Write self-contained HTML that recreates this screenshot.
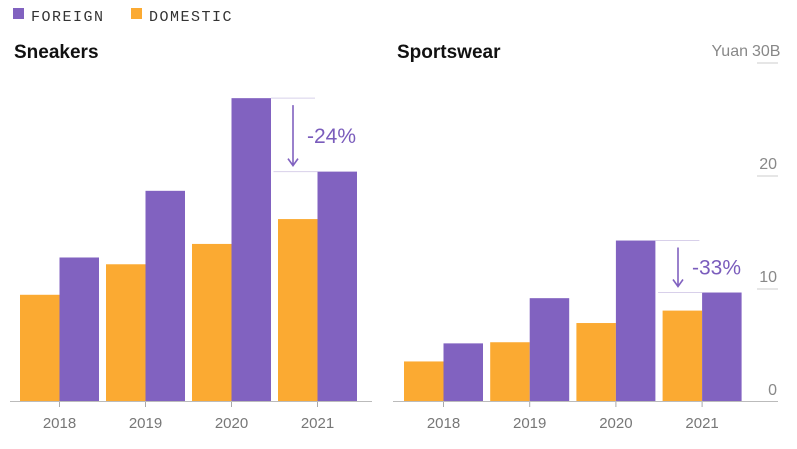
<!DOCTYPE html>
<html><head><meta charset="utf-8"><style>
body{margin:0;background:#fff;width:797px;height:444px;overflow:hidden;font-family:"Liberation Sans",sans-serif}
</style></head><body>
<svg id="c" width="797" height="444" xmlns="http://www.w3.org/2000/svg">
<g>
<rect x="13" y="8" width="11" height="11" fill="#8162c0"/>
<text x="31" y="21" font-family="Liberation Mono,monospace" font-size="15" fill="#333" letter-spacing="1.5">FOREIGN</text>
<rect x="131" y="8" width="11" height="11" fill="#fbaa32"/>
<text x="149" y="21" font-family="Liberation Mono,monospace" font-size="15" fill="#333" letter-spacing="1.5">DOMESTIC</text>
</g>
<text x="14" y="58" font-size="19" font-weight="bold" fill="#111">Sneakers</text>
<text x="397" y="58" font-size="19" font-weight="bold" fill="#111">Sportswear</text>
<text x="748" y="56" font-size="16" fill="#888" text-anchor="end">Yuan</text>
</svg>
<script>
const years=["2018","2019","2020","2021"];
const sneakersForeign=[12.7,18.6,26.8,20.3];
const sneakersDomestic=[9.4,12.1,13.9,16.1];
const sportsForeign=[5.1,9.1,14.2,9.6];
const sportsDomestic=[3.5,5.2,6.9,8.0];
const ticks=[0,10,20,30];
const tickLabels=["0","10","20","30B"];
const svg=document.getElementById('c');
const NS="http://www.w3.org/2000/svg";
function y(v){return 401-11.3*v;}
function mk(t,a,p){const e=document.createElementNS(NS,t);for(const k in a)e.setAttribute(k,a[k]);(p||svg).appendChild(e);return e;}
ticks.forEach((t,i)=>{
 if(t>0){const g=mk('line',{x1:757,x2:778,y1:y(t)+1,y2:y(t)+1,stroke:'#ccc','stroke-width':1});
 
 }
 const last=i===ticks.length-1;
 const l=mk('text',{x:last?752:777,y:y(t)-6,'font-size':16,fill:'#888','text-anchor':last?'start':'end'});
 l.textContent=tickLabels[i];
 
 
});
function panel(name,x0,step,dom,fr,base1,base2,pct,annX){
 const bw=39.5;
 years.forEach((yr,i)=>{
  const gx=x0+i*step;
  const d=mk('rect',{x:gx,y:y(dom[i]),width:bw,height:401-y(dom[i]),fill:'#fbaa32'});
  
  
  const f=mk('rect',{x:gx+bw,y:y(fr[i]),width:bw,height:401-y(fr[i]),fill:'#8162c0'});
  
  
  const tk=mk('line',{x1:gx+bw,x2:gx+bw,y1:401,y2:407,stroke:'#aaa'});
  
  
  const t=mk('text',{x:gx+bw,y:428,'font-size':15,fill:'#777','text-anchor':'middle'});
  t.textContent=yr;
  
  
 });
 const ax=mk('line',{x1:base1,x2:base2,y1:401.5,y2:401.5,stroke:'#bbb'});
 
 
 const g2=x0+2*step+2*bw, g3=x0+3*step+bw;
 const a=mk('line',{x1:g2,x2:g2+44,y1:y(fr[2]),y2:y(fr[2]),stroke:'#d8d0ea'});
 
 
 const b=mk('line',{x1:g3-44,x2:g3,y1:y(fr[3]),y2:y(fr[3]),stroke:'#d8d0ea'});
 
 
 const y1=y(fr[2])+7,y2=y(fr[3])-6;
 const ar=mk('path',{d:`M${annX} ${y1}V${y2} M${annX-5} ${y2-7}L${annX} ${y2}L${annX+5} ${y2-7}`,stroke:'#8162c0','stroke-width':1.6,fill:'none'});
 
 
 const pt=mk('text',{x:annX+14,y:(y(fr[2])+y(fr[3]))/2+8,'font-size':21,fill:'#7a5cbc'});
 pt.textContent=pct;
 
 
}
panel('sneakers',20,86,sneakersDomestic,sneakersForeign,10,372,'-24%',293);
panel('sportswear',404,86.2,sportsDomestic,sportsForeign,393,778,'-33%',678);
</script>
</body></html>
